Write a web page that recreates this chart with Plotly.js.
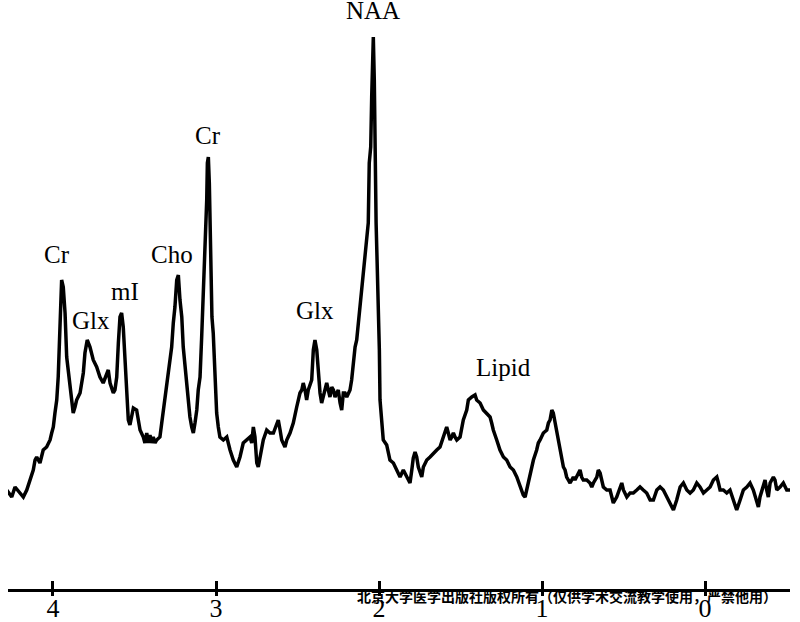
<!DOCTYPE html>
<html>
<head>
<meta charset="utf-8">
<script src="https://cdn.plot.ly/plotly-3.0.1.min.js"></script>
<style>html,body{margin:0;padding:0;background:#fff;}#chart{width:800px;height:622px;}</style>
</head>
<body>
<div id="chart"></div>
<script>
// Chemical shift (ppm)
const ppm = [
4.284,4.253,4.233,4.202,4.182,4.161,4.141,4.121,4.110,4.100,4.080,4.060,4.039,4.018,4.008,3.998,3.988,3.977,3.968,3.957,
3.947,3.937,3.926,3.916,3.906,3.896,3.885,3.876,3.865,3.855,3.834,3.814,3.804,3.790,3.773,3.753,3.732,3.712,3.692,3.671,
3.661,3.650,3.630,3.620,3.609,3.599,3.589,3.579,3.569,3.558,3.548,3.538,3.528,3.507,3.487,3.477,3.466,3.446,3.436,3.425,
3.415,3.405,3.395,3.385,3.374,3.364,3.344,3.333,3.323,3.303,3.282,3.272,3.262,3.252,3.241,3.231,3.221,3.210,3.201,3.190,
3.180,3.170,3.160,3.149,3.139,3.129,3.118,3.109,3.098,3.088,3.078,3.068,3.057,3.053,3.047,3.041,3.037,3.031,3.025,3.017,
3.006,2.996,2.986,2.976,2.955,2.934,2.914,2.894,2.873,2.853,2.833,2.812,2.791,2.781,2.771,2.761,2.750,2.741,2.720,2.710,
2.689,2.669,2.648,2.628,2.618,2.607,2.597,2.577,2.566,2.546,2.526,2.505,2.485,2.474,2.465,2.454,2.444,2.434,2.423,2.413,
2.403,2.393,2.382,2.372,2.362,2.352,2.342,2.331,2.321,2.311,2.301,2.290,2.280,2.270,2.250,2.239,2.229,2.219,2.209,2.198,
2.188,2.178,2.168,2.158,2.147,2.137,2.127,2.117,2.106,2.096,2.086,2.076,2.066,2.060,2.051,2.045,2.039,2.035,2.029,2.025,
2.018,2.012,2.004,1.998,1.994,1.983,1.974,1.953,1.933,1.912,1.891,1.871,1.851,1.830,1.820,1.810,1.799,1.790,1.779,1.769,
1.759,1.748,1.738,1.728,1.707,1.687,1.667,1.646,1.626,1.606,1.595,1.585,1.575,1.564,1.554,1.544,1.534,1.523,1.503,1.493,
1.483,1.462,1.452,1.431,1.411,1.401,1.380,1.360,1.339,1.319,1.309,1.299,1.278,1.258,1.237,1.217,1.196,1.176,1.155,1.135,
1.115,1.104,1.094,1.074,1.053,1.033,1.023,1.012,1.002,0.992,0.971,0.961,0.951,0.940,0.931,0.920,0.910,0.900,0.890,0.879,
0.869,0.859,0.849,0.839,0.828,0.818,0.808,0.798,0.787,0.777,0.767,0.757,0.747,0.726,0.706,0.695,0.685,0.664,0.655,0.644,
0.634,0.624,0.603,0.583,0.572,0.563,0.542,0.522,0.511,0.501,0.480,0.460,0.440,0.419,0.399,0.379,0.358,0.337,0.317,0.296,
0.276,0.256,0.235,0.215,0.194,0.174,0.153,0.133,0.112,0.092,0.072,0.051,0.031,0.010,-0.010,-0.031,-0.051,-0.072,-0.082,-0.092,
-0.112,-0.133,-0.153,-0.174,-0.194,-0.215,-0.235,-0.256,-0.276,-0.296,-0.317,-0.327,-0.337,-0.358,-0.368,-0.378,-0.388,-0.399,-0.419,-0.429,
-0.440,-0.460,-0.480,-0.501,-0.522
];
// Signal intensity (arbitrary units)
const signal = [
99,92,102,96,92,99,109,119,129,132,126,139,142,149,156,162,176,189,212,262,
309,302,276,232,219,202,189,176,182,189,196,216,236,249,242,229,222,212,206,216,
219,206,196,199,212,246,272,276,262,229,189,169,164,181,179,169,159,152,146,156,
146,154,146,152,146,149,152,166,179,199,226,242,266,282,309,314,289,272,242,222,
199,182,172,162,156,166,179,199,212,252,292,352,389,426,432,406,372,322,272,256,
206,176,162,152,149,152,139,129,122,132,146,149,152,146,162,152,126,122,139,149,
159,156,156,166,169,159,149,142,149,156,166,182,196,199,206,199,189,199,206,209,
239,249,239,212,196,186,192,199,206,199,192,202,199,192,199,186,179,196,196,192,
196,199,209,226,242,249,266,282,299,319,336,356,366,426,442,492,526,552,509,436,
366,329,289,239,189,159,149,144,129,126,119,112,119,112,109,106,119,131,137,132,
122,116,112,122,129,132,136,139,142,152,159,162,156,149,152,156,152,149,152,159,
169,179,189,192,194,189,186,179,176,172,166,159,149,139,132,129,122,119,112,102,
94,92,99,116,129,139,146,149,152,156,159,166,169,179,176,166,156,149,139,132,
122,119,112,109,106,109,112,109,112,116,119,112,109,109,106,102,106,112,119,116,
109,102,99,99,92,86,92,102,106,99,92,96,96,99,102,99,96,89,89,99,
102,99,92,86,79,89,102,106,99,96,99,106,102,96,99,102,109,112,106,99,
99,96,99,89,79,89,99,102,106,99,89,82,92,102,109,99,92,106,112,109,
99,102,106,99,99
];
// Peak labels
const peakNames = ["Cr","Glx","mI","Cho","Cr","Glx","NAA","Lipid"];
const peakPpm   = [3.975,3.767,3.561,3.273,3.052,2.393,2.037,1.236];
const peakLevel = [335,269,298,335,454,279,579,222];
// Axis ticks
const tickVals = [4,3,2,1,0];
const tickText = ["4","3","2","1","0"];
const watermark = "北京大学医学出版社版权所有（仅供学术交流教学使用，严禁他用）";

const serif = "Liberation Serif, Times New Roman, serif";
const xRange = [4.276, -0.521];

const traces = [
  {x: ppm, y: signal, type: "scatter", mode: "lines",
   line: {color: "#000", width: 3.5}, hoverinfo: "skip", showlegend: false},
  {x: [ppm[0]], y: [signal[0]], xaxis: "x2", type: "scatter", mode: "markers",
   marker: {opacity: 0}, hoverinfo: "skip", showlegend: false},
  {x: [ppm[0]], y: [signal[0]], xaxis: "x3", type: "scatter", mode: "markers",
   marker: {opacity: 0}, hoverinfo: "skip", showlegend: false}
];

const annotations = peakNames.map((t, i) => ({
  text: t, x: peakPpm[i], y: peakLevel[i], xref: "x", yref: "y",
  showarrow: false, xanchor: "center", yanchor: "middle",
  font: {family: serif, size: 25, color: "#000"}
}));
annotations.push({
  text: watermark, x: 0.4437, y: -0.0119, xref: "paper", yref: "paper",
  showarrow: false, xanchor: "left", yanchor: "middle",
  font: {family: "Noto Sans CJK SC", size: 14, color: "#000", weight: 700}
});

const layout = {
  width: 800, height: 622,
  margin: {l: 8, r: 10, t: 0, b: 33, pad: 0},
  paper_bgcolor: "#fff", plot_bgcolor: "#fff",
  showlegend: false,
  xaxis: {range: xRange, tickvals: tickVals, ticktext: tickText,
    ticks: "", ticklabelstandoff: -6,
    showline: true, linewidth: 3, linecolor: "#000",
    showgrid: false, zeroline: false,
    tickfont: {family: serif, size: 26, color: "#000"}},
  xaxis2: {range: xRange, overlaying: "x", anchor: "y", side: "bottom",
    tickvals: tickVals, ticks: "outside", ticklen: 6, tickwidth: 3, tickcolor: "#000",
    showticklabels: false, showline: false, showgrid: false, zeroline: false},
  xaxis3: {range: xRange, overlaying: "x", anchor: "y", side: "bottom",
    tickvals: tickVals, ticks: "inside", ticklen: 8, tickwidth: 3, tickcolor: "#000",
    showticklabels: false, showline: false, showgrid: false, zeroline: false},
  yaxis: {range: [0, 589], visible: false, showgrid: false, zeroline: false},
  annotations: annotations
};

Plotly.newPlot("chart", traces, layout, {staticPlot: true, displayModeBar: false});
</script>
</body>
</html>
